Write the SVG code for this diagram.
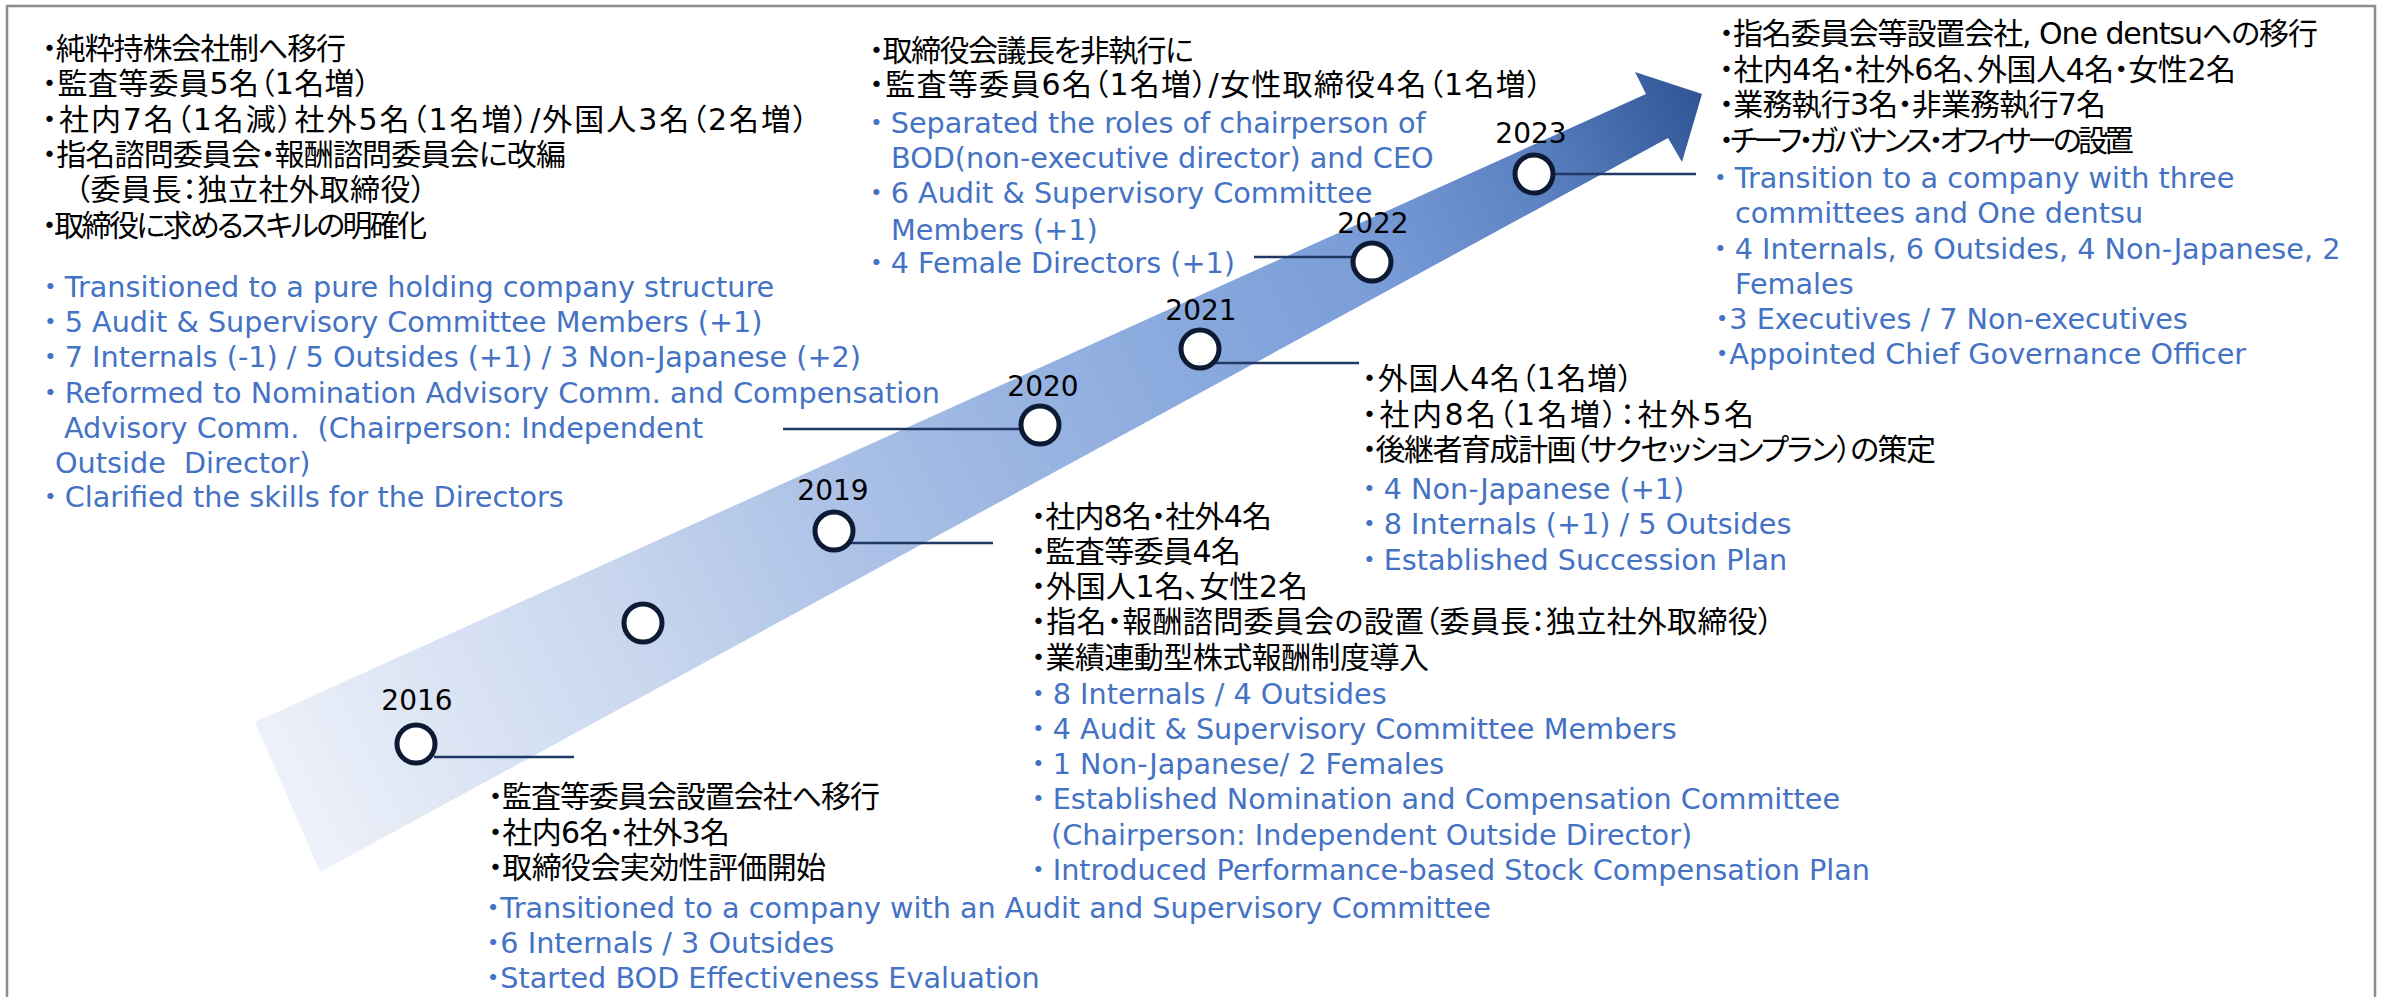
<svg xmlns="http://www.w3.org/2000/svg" width="2382" height="997" viewBox="0 0 2382 997">
<defs>
<linearGradient id="bandGrad" gradientUnits="userSpaceOnUse" x1="290" y1="800" x2="1702" y2="94">
<stop offset="0" stop-color="#EDF1F9"/>
<stop offset="0.09" stop-color="#DFE7F5"/>
<stop offset="0.25" stop-color="#C7D5EE"/>
<stop offset="0.38" stop-color="#AEC3E7"/>
<stop offset="0.53" stop-color="#97B3E1"/>
<stop offset="0.64" stop-color="#89A9DD"/>
<stop offset="0.76" stop-color="#7A9DD8"/>
<stop offset="0.88" stop-color="#5C82C2"/>
<stop offset="1" stop-color="#2F5597"/>
</linearGradient>
<style>
text { font-family: "DejaVu Sans", "Noto Sans CJK JP", sans-serif; }
.jp { font-size: 30px; fill: #000000; font-feature-settings: "palt" 1; }
.en { font-size: 28.7px; fill: #4472C4; }
.enp { font-size: 28.7px; fill: #4472C4; font-feature-settings: "palt" 1; }
.yr { font-size: 28px; fill: #000000; text-anchor: middle; }
.conn { stroke: #1F3864; stroke-width: 2.5; fill: none; }
.node { fill: #FFFFFF; stroke: #0C1A33; stroke-width: 5; }
</style>
</defs>
<rect x="0" y="0" width="2382" height="997" fill="#FFFFFF"/>
<rect id="frame" x="7" y="6" width="2368" height="1010" fill="none" stroke="#8C8C8C" stroke-width="2.5"/>

<g id="arrow">
<polygon points="255,722 1646,94 1635,72 1702,94 1682,162 1668,138 320,872" fill="url(#bandGrad)"/>
</g>

<g id="connectors">
<line class="conn" x1="434" y1="757" x2="574" y2="757"/>
<line class="conn" x1="851" y1="543" x2="993" y2="543"/>
<line class="conn" x1="783" y1="429" x2="1021" y2="429"/>
<line class="conn" x1="1215" y1="363" x2="1359" y2="363"/>
<line class="conn" x1="1254" y1="257" x2="1352" y2="257"/>
<line class="conn" x1="1553" y1="174" x2="1696" y2="174"/>
</g>

<g id="node-2016"><circle class="node" cx="416" cy="744" r="19"/><text class="yr" x="417" y="710">2016</text></g>
<g id="node-2017"><circle class="node" cx="643" cy="623" r="19"/></g>
<g id="node-2019"><circle class="node" cx="834" cy="531" r="19"/><text class="yr" x="833" y="500">2019</text></g>
<g id="node-2020"><circle class="node" cx="1040" cy="425" r="19"/><text class="yr" x="1043" y="396">2020</text></g>
<g id="node-2021"><circle class="node" cx="1200" cy="349" r="19"/><text class="yr" x="1201" y="320">2021</text></g>
<g id="node-2022"><circle class="node" cx="1372" cy="262" r="19"/><text class="yr" x="1373" y="233">2022</text></g>
<g id="node-2023"><circle class="node" cx="1534" cy="174" r="19"/><text class="yr" x="1531" y="143">2023</text></g>

<g id="text-2020">
<text class="jp" x="42" y="59" textLength="304" lengthAdjust="spacing">・純粋持株会社制へ移行</text>
<text class="jp" x="42" y="94" textLength="328" lengthAdjust="spacing">・監査等委員5名（1名増）</text>
<text class="jp" x="42" y="130" textLength="766" lengthAdjust="spacing">・社内7名（1名減）社外5名（1名増）/外国人3名（2名増）</text>
<text class="jp" x="42" y="165" textLength="524" lengthAdjust="spacing">・指名諮問委員会・報酬諮問委員会に改編</text>
<text class="jp" x="75" y="200" textLength="351" lengthAdjust="spacing">（委員長：独立社外取締役）</text>
<text class="jp" x="42" y="236" textLength="385" lengthAdjust="spacing">・取締役に求めるスキルの明確化</text>
<text class="en" x="36" y="297">・Transitioned to a pure holding company structure</text>
<text class="en" x="36" y="332">・5 Audit &amp; Supervisory Committee Members (+1)</text>
<text class="en" x="36" y="367">・7 Internals (-1) / 5 Outsides (+1) / 3 Non-Japanese (+2)</text>
<text class="en" x="36" y="403">・Reformed to Nomination Advisory Comm. and Compensation</text>
<text class="en" x="64" y="438" xml:space="preserve">Advisory Comm.  (Chairperson: Independent</text>
<text class="en" x="55" y="473" xml:space="preserve">Outside  Director)</text>
<text class="en" x="36" y="507">・Clarified the skills for the Directors</text>
</g>

<g id="text-2022">
<text class="jp" x="869" y="61" textLength="325" lengthAdjust="spacing">・取締役会議長を非執行に</text>
<text class="jp" x="869" y="95" textLength="673" lengthAdjust="spacing">・監査等委員6名（1名増）/女性取締役4名（1名増）</text>
<text class="en" x="862" y="133">・Separated the roles of chairperson of</text>
<text class="en" x="891" y="168">BOD(non-executive director) and CEO</text>
<text class="en" x="862" y="203">・6 Audit &amp; Supervisory Committee</text>
<text class="en" x="891" y="240">Members (+1)</text>
<text class="en" x="862" y="273">・4 Female Directors (+1)</text>
</g>

<g id="text-2023">
<text class="jp" x="1719" y="44" textLength="599" lengthAdjust="spacing">・指名委員会等設置会社, One dentsuへの移行</text>
<text class="jp" x="1719" y="80" textLength="517" lengthAdjust="spacing">・社内4名・社外6名、外国人4名・女性2名</text>
<text class="jp" x="1719" y="115" textLength="387" lengthAdjust="spacing">・業務執行3名・非業務執行7名</text>
<text class="jp" x="1719" y="151" textLength="415" lengthAdjust="spacing">・チーフ・ガバナンス・オフィサーの設置</text>
<text class="en" x="1706" y="188">・Transition to a company with three</text>
<text class="en" x="1735" y="223">committees and One dentsu</text>
<text class="en" x="1706" y="259">・4 Internals, 6 Outsides, 4 Non-Japanese, 2</text>
<text class="en" x="1735" y="294">Females</text>
<text class="enp" x="1715" y="329">・3 Executives / 7 Non-executives</text>
<text class="enp" x="1715" y="364">・Appointed Chief Governance Officer</text>
</g>

<g id="text-2021">
<text class="jp" x="1362" y="389" textLength="271" lengthAdjust="spacing">・外国人4名（1名増）</text>
<text class="jp" x="1362" y="425" textLength="392" lengthAdjust="spacing">・社内8名（1名増）：社外5名</text>
<text class="jp" x="1362" y="460" textLength="574" lengthAdjust="spacing">・後継者育成計画（サクセッションプラン）の策定</text>
<text class="en" x="1355" y="499">・4 Non-Japanese (+1)</text>
<text class="en" x="1355" y="534">・8 Internals (+1) / 5 Outsides</text>
<text class="en" x="1355" y="570">・Established Succession Plan</text>
</g>

<g id="text-2019">
<text class="jp" x="1031" y="527" textLength="241" lengthAdjust="spacing">・社内8名・社外4名</text>
<text class="jp" x="1031" y="562" textLength="210" lengthAdjust="spacing">・監査等委員4名</text>
<text class="jp" x="1031" y="597" textLength="277" lengthAdjust="spacing">・外国人1名、女性2名</text>
<text class="jp" x="1031" y="632" textLength="742" lengthAdjust="spacing">・指名・報酬諮問委員会の設置（委員長：独立社外取締役）</text>
<text class="jp" x="1031" y="668" textLength="398" lengthAdjust="spacing">・業績連動型株式報酬制度導入</text>
<text class="en" x="1024" y="704">・8 Internals / 4 Outsides</text>
<text class="en" x="1024" y="739">・4 Audit &amp; Supervisory Committee Members</text>
<text class="en" x="1024" y="774">・1 Non-Japanese/ 2 Females</text>
<text class="en" x="1024" y="809">・Established Nomination and Compensation Committee</text>
<text class="en" x="1051" y="845">(Chairperson: Independent Outside Director)</text>
<text class="en" x="1024" y="880">・Introduced Performance-based Stock Compensation Plan</text>
</g>

<g id="text-2016">
<text class="jp" x="488" y="807" textLength="392" lengthAdjust="spacing">・監査等委員会設置会社へ移行</text>
<text class="jp" x="488" y="843" textLength="242" lengthAdjust="spacing">・社内6名・社外3名</text>
<text class="jp" x="488" y="878" textLength="338" lengthAdjust="spacing">・取締役会実効性評価開始</text>
<text class="enp" x="486" y="918">・Transitioned to a company with an Audit and Supervisory Committee</text>
<text class="enp" x="486" y="953">・6 Internals / 3 Outsides</text>
<text class="enp" x="486" y="988">・Started BOD Effectiveness Evaluation</text>
</g>
</svg>
